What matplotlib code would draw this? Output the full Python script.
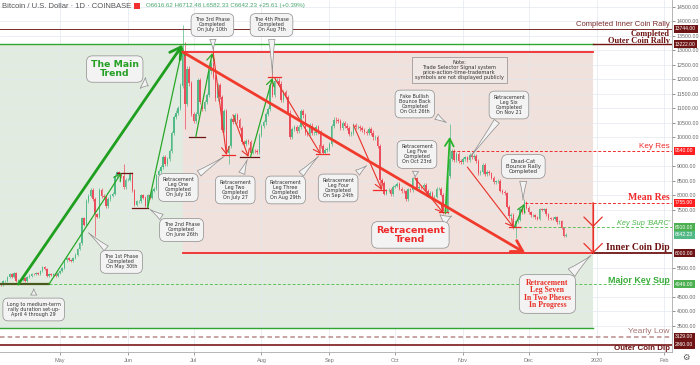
import numpy as np
import matplotlib
matplotlib.use("Agg")
import matplotlib.pyplot as plt
import matplotlib.dates as mdates
from matplotlib.patches import Rectangle
from matplotlib.ticker import FormatStrFormatter
from matplotlib.transforms import blended_transform_factory

plt.rcParams['font.family'] = ['Liberation Sans', 'DejaVu Sans']

# BTC/USD daily closes (Coinbase), first value is the close of 2019-04-03
first_day = "2019-04-03"
closes_apr = [4960, 4910, 5040, 5060, 5200, 5280, 5180, 5320, 5040, 5080, 5070, 5160, 5040, 5200,
              5240, 5290, 5280, 5330, 5290, 5390, 5540, 5460, 5210, 5290, 5270, 5290, 5210, 5330]
closes_may = [5390, 5490, 5760, 5830, 5770, 5750, 5840, 5960, 6160, 6350, 7210, 6990, 7810, 7990, 8200, 7880,
              7350, 7260, 8190, 7980, 7950, 7630, 7880, 7990, 8060, 8680, 8800, 8720, 8660, 8280, 8550]
closes_jun = [8550, 8740, 8180, 7680, 7800, 7800, 8000, 7930, 7640, 8010, 7930, 8170, 8230, 8690, 8850,
              8980, 9320, 9080, 9270, 9530, 10160, 10700, 10860, 11010, 11780, 12930, 11160, 12370, 11870, 10820]
closes_jul = [10580, 10800, 11970, 11220, 10980, 11230, 11460, 12290, 12570, 12100, 11350, 11800, 11390, 10260,
              10900, 9480, 9690, 10640, 10530, 10760, 10590, 10320, 9850, 9770, 9880, 9850, 9480, 9530, 9520, 9510, 10090]
closes_aug = [10400, 10520, 10820, 10980, 11800, 11480, 11960, 11960, 11860, 11290, 11560, 11400, 10860, 10020,
              10300, 10360, 10230, 10350, 10920, 10760, 10140, 10130, 10410, 10140, 10140, 10370, 10190, 9720, 9480, 9580, 9600]
closes_sep = [9760, 10390, 10620, 10590, 10580, 10320, 10490, 10410, 10340, 10120, 10160, 10420, 10360, 10360,
              10310, 10270, 10200, 10160, 10280, 10170, 10000, 10030, 9700, 8530, 8430, 8060, 8180, 8200, 8050, 8300]
closes_oct = [8340, 8390, 8230, 8150, 8140, 7870, 8210, 8190, 8590, 8590, 8270, 8300, 8280, 8360, 8160, 7990,
              8090, 7960, 7960, 8230, 8230, 8030, 7470, 7430, 8660, 9250, 9550, 9220, 9430, 9200, 9150]
closes_nov = [9250, 9310, 9210, 9410, 9320, 9350, 9200, 8770, 8810, 9040, 8730, 8820, 8760, 8620, 8460,
              8490, 8500, 8170, 8120, 8080, 7620, 7280, 7330, 6900, 7110, 7160, 7520, 7430, 7760, 7570]
closes_dec = [7420, 7320, 7320, 7250, 7200, 7530, 7510, 7520, 7350, 7220, 7200, 7190, 7250, 7070, 7110,
              6880, 6616.62, 6642.23]

# wick extremes that stick out on the chart
wick_highs = {"2019-05-30": 9080, "2019-06-26": 13880, "2019-06-27": 13300, "2019-07-10": 13180,
              "2019-08-06": 12320, "2019-10-26": 10450, "2019-11-29": 7870, "2019-12-18": 6712.48}
wick_lows = {"2019-05-17": 6600, "2019-06-27": 10300, "2019-07-17": 9070, "2019-09-24": 8210,
             "2019-10-23": 7350, "2019-11-25": 6530, "2019-12-18": 6582.33}

# horizontal levels
inner_coin_rally = 13744
outer_coin_rally = 13222
retrace_top = 12940
key_res = 9540
mean_res = 7755
key_sup = 6910
last_price = 6642.23
inner_coin_dip = 6000
major_key_sup = 4946
green_floor = 3430
yearly_low = 3129
outer_coin_dip = 2860

region_start = "2019-06-26"
region_end = "2019-12-30 10:00"

month_ticks = ["2019-05-01", "2019-06-01", "2019-07-01", "2019-08-01", "2019-09-01", "2019-10-01",
               "2019-11-01", "2019-12-01", "2020-01-01", "2020-02-01"]
month_labels = ["May", "Jun", "Jul", "Aug", "Sep", "Oct", "Nov", "Dec", "2020", "Feb"]

# swing arrows: (start date, start price, end date, end price)
phase_legs = [("2019-04-26", 4946, "2019-05-29", 8780),
              ("2019-06-10", 7570, "2019-06-26", 13120),
              ("2019-07-02", 10020, "2019-07-09 12:00", 12910),
              ("2019-07-27", 9330, "2019-08-06", 12050),
              ("2019-11-24 12:00", 6910, "2019-11-29", 7710)]
fake_bounce = ("2019-10-24", 7400, "2019-10-26", 10020)
retrace_legs = [("2019-07-10", 12910, "2019-07-16", 9400),
                ("2019-07-19", 10780, "2019-07-26", 9330),
                ("2019-08-07", 12050, "2019-08-28", 9430),
                ("2019-09-12", 10430, "2019-09-25", 8190),
                ("2019-10-10", 8600, "2019-10-23", 7400),
                ("2019-11-03", 8980, "2019-11-24", 6910)]
main_trend = ("2019-04-12", 4946, "2019-06-26", 13200)
retrace_trend = ("2019-06-26", 12950, "2019-11-29 10:00", 6020)

# short turning-point marks: (from, to, price)
top_marks = [("2019-05-27", "2019-06-03", 8780), ("2019-06-03", "2019-06-10", 7570),
             ("2019-06-29", "2019-07-06", 10020), ("2019-07-22", "2019-07-31", 9330)]
low_marks = [("2019-07-14", "2019-07-20", 9400), ("2019-08-04", "2019-08-10", 12090),
             ("2019-08-26", "2019-09-01", 9430), ("2019-09-21", "2019-09-27", 8190),
             ("2019-10-21", "2019-10-25", 7430), ("2019-11-22", "2019-11-27", 6910)]

DARK_RED = '#6e1414'
RED = '#f02b2b'
GREEN = '#2fa62f'
LIGHT_GREEN = '#5cc25c'


def d(s):
    return mdates.datestr2num(s)


closes = closes_apr + closes_may + closes_jun + closes_jul + closes_aug + closes_sep + closes_oct + closes_nov + closes_dec
day0 = d(first_day)
x = day0 + np.arange(1, len(closes))
o = np.array(closes[:-1], float)
c = np.array(closes[1:], float)
hi = np.maximum(o, c) * 1.007
lo = np.minimum(o, c) * 0.993
for k, v in wick_highs.items():
    hi[int(d(k) - day0) - 1] = v
for k, v in wick_lows.items():
    lo[int(d(k) - day0) - 1] = v
up = c >= o
cols = np.where(up, '#53b987', '#eb4d5c')

fig = plt.figure(figsize=(7, 3.65), dpi=100)
ax = fig.add_axes([0, 13 / 365, 672 / 700, 352 / 365])
may1 = d("2019-05-01")
x0, x1 = may1 - 27.4, may1 + 279.45
ax.set_xlim(x0, x1)
ax.set_ylim(2603, 14741)

# shaded zones
rs, re_ = d(region_start), d(region_end)
ax.fill_between([x0, rs], green_floor, outer_coin_rally, color='#e2ebdf', lw=0, zorder=0.5)
ax.fill_between([rs, re_], inner_coin_dip, retrace_top, color='#f0e1dc', lw=0, zorder=0.5)
ax.fill_between([rs, re_], green_floor, inner_coin_dip, color='#e2ebdf', lw=0, zorder=0.5)

# candles
ax.vlines(x, lo, hi, colors=cols, lw=0.5, zorder=3)
ax.bar(x, c - o, bottom=o, width=0.7, color=cols, lw=0, zorder=3.1)

# level lines
ax.plot([x0, x1], [inner_coin_rally] * 2, color='#7a2a2a', lw=0.7, zorder=4)
ax.plot([x0, re_], [outer_coin_rally] * 2, color=GREEN, lw=1.0, zorder=4)
ax.plot([re_, x1], [outer_coin_rally] * 2, color=DARK_RED, lw=1.0, zorder=4)
ax.plot([rs, re_], [retrace_top] * 2, color=RED, lw=1.3, zorder=4)
ax.plot([d("2019-10-27"), x1], [key_res] * 2, color=RED, lw=0.7, ls=(0, (3, 2)), zorder=4)
ax.plot([d("2019-11-29 08:00"), x1], [mean_res] * 2, color=RED, lw=0.7, ls=(0, (3, 2)), zorder=4)
ax.plot([d("2019-11-24 10:00"), x1], [key_sup] * 2, color=LIGHT_GREEN, lw=0.7, ls=(0, (3, 2)), zorder=4)
ax.plot([rs, re_], [inner_coin_dip] * 2, color=RED, lw=1.3, zorder=4)
ax.plot([re_, x1], [inner_coin_dip] * 2, color=DARK_RED, lw=1.3, zorder=4)
ax.plot([x0, d("2019-04-26")], [major_key_sup] * 2, color='#4a5a1c', lw=1.6, zorder=4)
ax.plot([d("2019-04-26"), x1], [major_key_sup] * 2, color=LIGHT_GREEN, lw=0.7, ls=(0, (3, 2)), zorder=4)
ax.plot([x0, re_], [green_floor] * 2, color=GREEN, lw=1.0, zorder=4)
ax.plot([x0, x1], [yearly_low] * 2, color='#b98a8a', lw=1.1, ls=(0, (3, 2)), zorder=4)
ax.plot([x0, x1], [outer_coin_dip] * 2, color='#7a1a1a', lw=1.2, zorder=4)

for a, b, p in top_marks:
    ax.plot([d(a), d(b)], [p, p], color=DARK_RED, lw=0.9, zorder=4)
for a, b, p in low_marks:
    ax.plot([d(a), d(b)], [p, p], color=RED, lw=0.9, zorder=4)


def arrow(leg, color, lw, scale):
    ax.annotate('', xy=(d(leg[2]), leg[3]), xytext=(d(leg[0]), leg[1]), zorder=5,
                arrowprops=dict(arrowstyle='->,head_length=0.6,head_width=0.35', color=color,
                                lw=lw, shrinkA=0, shrinkB=0, mutation_scale=scale))


for leg in phase_legs:
    arrow(leg, '#28a828', 0.9, 8)
arrow(fake_bounce, '#28b428', 1.3, 9)
for leg in retrace_legs:
    arrow(leg, '#e8322a', 0.8, 8)
arrow(main_trend, '#1f9f1f', 2.0, 13)
arrow(retrace_trend, '#f03a2c', 2.0, 13)

# leg seven: vertical line with two chevrons
ax.plot([re_, re_], [mean_res, inner_coin_dip], color='#e8322a', lw=0.9, zorder=5)
for top, bottom in [(mean_res, key_sup), (key_sup, inner_coin_dip)]:
    ax.annotate('', xy=(re_, bottom), xytext=(re_, top), zorder=5,
                arrowprops=dict(arrowstyle='->,head_length=0.6,head_width=0.6', color='#e8322a',
                                lw=0.9, shrinkA=0, shrinkB=0, mutation_scale=11))

box_style = dict(boxstyle='round,pad=0.8,rounding_size=1.2', fc='#f3f3f3', ec='#8c8c8c', lw=0.5)


def callout(text, box, point=None, size=3.5, color='#333333', family='DejaVu Sans',
            weight='normal', pad=0.8, ls=1.0):
    bb = dict(box_style, boxstyle=f'round,pad={pad},rounding_size={pad * 1.4}')
    arrowprops = None
    xy = (d(box[0]), box[1])
    if point is not None:
        xy = (d(point[0]), point[1])
        arrowprops = dict(arrowstyle='wedge,tail_width=1.3,shrink_factor=0.35', fc='#f3f3f3',
                          ec='#8c8c8c', lw=0.5)
    ax.annotate(text, xy=xy, xytext=(d(box[0]), box[1]), ha='center', va='center',
                fontsize=size, color=color, family=family, fontweight=weight, linespacing=ls,
                bbox=bb, arrowprops=arrowprops, zorder=6)


callout("The Main\nTrend", ("2019-05-26", 12360), ("2019-06-11 12:00", 11740),
        size=6.7, color='#25a025', weight='bold', pad=0.45)
callout("Retracement\nTrend", ("2019-10-08", 6640), ("2019-10-28", 7330),
        size=6.8, color='#ee2b2b', weight='bold', pad=0.45)
callout("The 1st Phase\nCompleted\nOn May 30th", ("2019-05-29", 5710), ("2019-05-13", 6780))
callout("The 2nd Phase\nCompleted\nOn June 26th", ("2019-06-25 12:00", 6810), ("2019-06-10", 7570))
callout("The 3rd Phase\nCompleted\nOn July 10th", ("2019-07-09 14:00", 13880), ("2019-07-10", 12914))
callout("The 4th Phase\nCompleted\nOn Aug 7th", ("2019-08-05 14:00", 13880), ("2019-08-06", 12090))
callout("Retracement\nLeg One\nCompleted\nOn July 16", ("2019-06-24", 8276), ("2019-07-16", 9397))
callout("Retracement\nLeg Two\nCompleted\nOn July 27", ("2019-07-20", 8190), ("2019-07-26", 9330))
callout("Retracement\nLeg Three\nCompleted\nOn Aug 29th", ("2019-08-12", 8190), ("2019-08-28", 9430))
callout("Retracement\nLeg Four\nCompleted\nOn Sep 24th", ("2019-09-05", 8260), ("2019-09-19", 9090))
callout("Retracement\nLeg Five\nCompleted\nOn Oct 23rd", ("2019-10-11", 9414), ("2019-10-10", 8534))
callout("Fake Bullish\nBounce Back\nCompleted\nOn Oct 26th", ("2019-10-10", 11155), ("2019-10-25 12:00", 10466))
callout("Retracement\nLeg Six\nCompleted\nOn Nov 21", ("2019-11-22", 11120), ("2019-11-03", 9190))
callout("Dead-Cat\nBounce Rally\nCompleted", ("2019-11-28 14:00", 9000), ("2019-11-28 10:00", 7741), size=3.9)
callout("Long to medium-term\nrally duration set-up-\nApril 4 through 29", ("2019-04-19", 4069), ("2019-04-19", 4879))
callout("Retracement\nLeg Seven\nIn Two Pheses\nIn Progress", ("2019-12-09 14:00", 4603), (region_end, inner_coin_dip),
        size=5.6, color='#e8322a', family='Liberation Serif', weight='bold', pad=0.6, ls=0.85)
ax.text(d("2019-10-30 06:00"), 12330,
        "Note:\nTrade Selector Signal system\nprice-action-time-trademark\nsymbols are not displayed publicly",
        ha='center', va='center', fontsize=3.7, family='DejaVu Sans', color='#333333', linespacing=1.0,
        zorder=6, bbox=dict(boxstyle='square,pad=0.6', fc='#f0e8e5', ec='#8c8c8c', lw=0.5))

# level names at the right edge
blend = blended_transform_factory(ax.transAxes, ax.transData)


def level_label(text, level, dy_px, **style):
    ax.annotate(text, xy=(1, level), xycoords=blend, xytext=(-1.5, dy_px * 0.72),
                textcoords='offset points', ha='right', va='center', zorder=7, **style)


level_label("Completed Inner Coin Rally", inner_coin_rally, 4, fontsize=5.5, color='#7a2a2a')
level_label("Completed\nOuter Coin Rally", outer_coin_rally, 7, fontsize=6, color=DARK_RED,
            family='Liberation Serif', fontweight='bold', linespacing=0.85, multialignment='right')
level_label("Key Res", key_res, 4, fontsize=5.9, color=RED)
level_label("Mean Res", mean_res, 5, fontsize=7, color=RED, family='Liberation Serif', fontweight='bold')
level_label("Key Sup 'BARC'", key_sup, 4, fontsize=5.3, color='#4cb84c', style='italic')
level_label("Inner Coin Dip", inner_coin_dip, 6, fontsize=7, color=DARK_RED, family='Liberation Serif',
            fontweight='bold')
level_label("Major Key Sup", major_key_sup, 4, fontsize=6.4, color='#3aad3a', fontweight='bold')
level_label("Yearly Low", yearly_low, 5, fontsize=6.1, color='#a87474')
level_label("Outer Coin Dip", outer_coin_dip, -4, fontsize=5.7, color=DARK_RED, fontweight='bold')

# price scale tags
tag_values = [inner_coin_rally, outer_coin_rally, key_res, mean_res, key_sup, last_price,
              inner_coin_dip, major_key_sup, yearly_low, outer_coin_dip]
tag_colors = [DARK_RED, DARK_RED, '#ff1f1f', '#ff1f1f', '#4caf50', '#53b987',
              DARK_RED, '#4caf50', DARK_RED, DARK_RED]
for v, col in zip(tag_values, tag_colors):
    ax.annotate(f"{v:.2f}", xy=(1, v), xycoords=blend, xytext=(2.2, 0), textcoords='offset points',
                ha='left', va='center', fontsize=3.6, color='white', zorder=20, annotation_clip=False,
                bbox=dict(boxstyle='square,pad=0.3', fc=col, ec='none'))

# regular price ticks, hidden where a tag sits on top of them
price_ticks = [t for t in np.arange(3000, 14501, 500)
               if min(abs(t - v) for v in tag_values) > 200]

# axes
ax.set_xticks(d(month_ticks))
ax.set_xticklabels(month_labels)
ax.yaxis.tick_right()
ax.set_yticks(price_ticks)
ax.yaxis.set_major_formatter(FormatStrFormatter('%.2f'))
ax.tick_params(axis='x', labelsize=4, colors='#777777', length=2, pad=2.5, width=0.5)
ax.tick_params(axis='y', labelsize=3.8, colors='#666666', length=2, pad=1.5, width=0.5)
ax.grid(color='#e3e9ef', lw=0.5)
ax.set_axisbelow('line')
for s in ['top', 'left']:
    ax.spines[s].set_visible(False)
for s in ['right', 'bottom']:
    ax.spines[s].set_color('#aaaaaa')
    ax.spines[s].set_linewidth(0.6)

# header
fig.text(2 / 700, 1 - 6 / 365, "Bitcoin / U.S. Dollar · 1D · COINBASE", fontsize=5.5, color='#555555',
         va='center')
fig.patches.append(Rectangle((134 / 700, 1 - 9 / 365), 6 / 700, 6 / 365, transform=fig.transFigure,
                             fc='#f23030', ec='none'))
fig.text(146 / 700, 1 - 6 / 365, "O6616.62 H6712.48 L6582.33 C6642.23 +25.61 (+0.39%)", fontsize=4.4,
         color='#46a66e', va='center')
fig.text(686 / 700, 1 - 358 / 365, '\u2699', fontsize=6, color='#555555', ha='center', va='center')

fig.savefig('out.png', dpi=100)
